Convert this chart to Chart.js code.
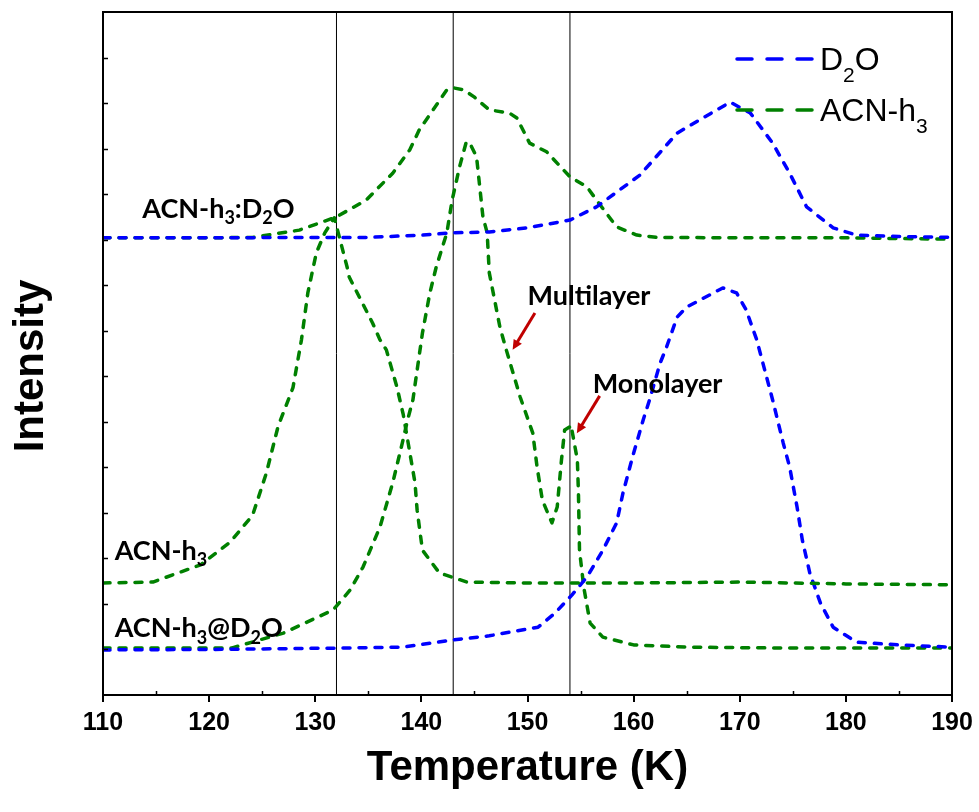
<!DOCTYPE html>
<html>
<head>
<meta charset="utf-8">
<script src="https://cdn.jsdelivr.net/npm/chart.js@4.4.1/dist/chart.umd.min.js"></script>
<style>
  html, body { margin: 0; padding: 0; background: #fff; }
  canvas { display: block; }
</style>
</head>
<body>
<canvas id="tpd" width="979" height="812"></canvas>
<script>
// ----- Data -----

// D2O trace in the ACN-h3:D2O mixture (top, blue)
const MIX_D2O_T = [110, 120, 130, 135, 140, 143, 146.4, 150, 154, 156.5, 160.6, 164.1, 166.5, 169.1, 171, 173.1, 174.7, 176.3, 178.8, 181, 185, 190];
const MIX_D2O_I = [10.04, 10.04, 10.05, 10.05, 10.10, 10.15, 10.17, 10.26, 10.43, 10.72, 11.42, 12.34, 12.67, 13.02, 12.78, 12.12, 11.46, 10.72, 10.26, 10.10, 10.07, 10.05];

// ACN-h3 trace in the ACN-h3:D2O mixture (top, green)
const MIX_ACN_T = [110, 115, 120, 124.1, 128.5, 132, 134.8, 137.3, 138.9, 139.8, 142.4, 143.1, 144, 145, 146.4, 148.3, 149, 150.2, 151.8, 154, 155.6, 156.5, 158.4, 160.3, 162.2, 170, 180, 190];
const MIX_ACN_I = [10.04, 10.04, 10.04, 10.05, 10.21, 10.50, 10.87, 11.46, 11.97, 12.41, 13.29, 13.33, 13.29, 13.13, 12.85, 12.78, 12.67, 12.12, 11.93, 11.38, 11.16, 10.87, 10.28, 10.10, 10.05, 10.04, 10.04, 10.01];

// pure ACN-h3 (middle, green)
const PURE_ACN_T = [110, 114.7, 119.2, 122, 124.1, 125.4, 126.5, 127.9, 128.7, 129.3, 130.1, 130.9, 131.8, 133.0, 133.2, 135.4, 136.1, 136.7, 137.7, 138.3, 139.4, 139.6, 140.1, 141.7, 144.3, 150, 160, 170, 180, 190];
const PURE_ACN_I = [2.46, 2.48, 2.86, 3.36, 3.95, 4.88, 5.90, 6.75, 7.80, 8.83, 9.71, 10.15, 10.48, 9.40, 9.18, 8.17, 7.80, 7.58, 6.76, 6.15, 4.66, 4.06, 3.18, 2.68, 2.48, 2.46, 2.46, 2.48, 2.44, 2.42];

// ACN-h3 on D2O, ACN-h3@D2O (bottom, green)
const LAYER_ACN_T = [110, 115, 122.1, 127, 131.7, 133.3, 134.5, 136.1, 137.3, 138.2, 138.7, 139.2, 140.1, 140.8, 141.4, 142.4, 142.9, 143.6, 144.2, 144.5, 145.2, 145.8, 146.2, 146.4, 147.4, 148.0, 149.3, 150.5, 150.9, 151.4, 152.3, 152.8, 153.2, 153.5, 154.0, 154.1, 154.7, 154.8, 154.9, 155.3, 155.9, 157.1, 160.0, 165.4, 174.8, 190];
const LAYER_ACN_I = [1.03, 1.03, 1.03, 1.36, 1.87, 2.31, 2.81, 3.69, 4.66, 5.53, 6.04, 6.48, 7.95, 8.83, 9.40, 10.15, 10.87, 11.60, 12.12, 12.15, 11.82, 10.50, 10.15, 9.27, 8.08, 7.58, 6.55, 5.75, 5.01, 4.28, 3.78, 4.13, 5.16, 5.82, 5.89, 5.93, 5.16, 4.44, 3.18, 2.37, 1.58, 1.27, 1.10, 1.05, 1.03, 1.03];

// D2O under the ACN-h3 layer (bottom, blue)
const LAYER_D2O_T = [110, 120, 132, 138.2, 143, 146.4, 151, 152.6, 154.2, 155.6, 157.1, 158.4, 159.0, 159.9, 160.9, 161.5, 162.5, 163.1, 164.1, 165.0, 168.4, 169.7, 170.6, 171.6, 173.1, 174.1, 174.7, 175.4, 175.9, 176.6, 177.6, 178.8, 181.0, 185, 190];
const LAYER_D2O_I = [0.99, 1.00, 1.03, 1.05, 1.21, 1.30, 1.49, 1.80, 2.20, 2.59, 3.18, 3.78, 4.44, 5.23, 6.04, 6.48, 7.29, 7.64, 8.30, 8.52, 8.94, 8.83, 8.46, 7.80, 6.48, 5.53, 5.01, 4.13, 3.40, 2.68, 2.02, 1.49, 1.16, 1.10, 1.05];

// guide lines (K)
const GUIDE_T = [132, 143, 154];

const X_MIN = 110, X_MAX = 190, X_STEP = 10;
const Y_MIN = 0, Y_MAX = 15;

// ----- Styles -----
const BLUE = '#0000ff';
const GREEN = '#008000';
const ARROW_RED = '#c00000';
const SANS = '"Liberation Sans", Arial, sans-serif';
const LABEL_FONT = 'Lato, "Open Sans", sans-serif';

const zip = (xs, ys) => xs.map((x, i) => ({ x, y: ys[i] }));

function curve(xs, ys, color) {
  return {
    data: zip(xs, ys),
    borderColor: color,
    borderWidth: 3.5,
    borderDash: [7, 9],
    borderCapStyle: 'round',
    borderJoinStyle: 'round',
    pointRadius: 0,
    tension: 0,
    fill: false,
  };
}

function guide(t) {
  return {
    data: [{ x: t, y: Y_MIN }, { x: t, y: Y_MAX }],
    borderColor: '#000',
    borderWidth: 1,
    pointRadius: 0,
  };
}

// text with subscripts: parts = [[text, isSub], ...]
function drawRich(ctx, x, y, parts, size, weight, family, subDrop) {
  ctx.save();
  ctx.textBaseline = 'alphabetic';
  ctx.textAlign = 'left';
  let cx = x;
  parts.forEach(([txt, sub]) => {
    const s = sub ? Math.round(size * 0.66) : size;
    ctx.font = `${weight} ${s}px ${family}`;
    ctx.fillText(txt, cx, sub ? y + size * subDrop : y);
    cx += ctx.measureText(txt).width;
  });
  ctx.restore();
}

function drawArrow(ctx, x1, y1, x2, y2) {
  const ang = Math.atan2(y2 - y1, x2 - x1);
  const head = 11;
  ctx.save();
  ctx.strokeStyle = ARROW_RED;
  ctx.fillStyle = ARROW_RED;
  ctx.lineWidth = 3;
  ctx.beginPath();
  ctx.moveTo(x1, y1);
  ctx.lineTo(x2 - Math.cos(ang) * head * 0.8, y2 - Math.sin(ang) * head * 0.8);
  ctx.stroke();
  ctx.beginPath();
  ctx.moveTo(x2, y2);
  ctx.lineTo(x2 - head * Math.cos(ang - 0.45), y2 - head * Math.sin(ang - 0.45));
  ctx.lineTo(x2 - head * Math.cos(ang + 0.45), y2 - head * Math.sin(ang + 0.45));
  ctx.closePath();
  ctx.fill();
  ctx.restore();
}

// frame, minor ticks, titles, legend and annotations
const decor = {
  id: 'decor',
  afterDraw(chart) {
    const { ctx, chartArea: a, scales: { x, y } } = chart;
    ctx.save();
    ctx.strokeStyle = '#000';
    ctx.lineWidth = 2;
    ctx.strokeRect(a.left, a.top, a.right - a.left, a.bottom - a.top);

    // inward ticks on the left axis
    ctx.lineWidth = 1.5;
    for (let v = Y_MIN + 1; v < Y_MAX; v++) {
      const py = Math.round(y.getPixelForValue(v)) + 0.5;
      ctx.beginPath();
      ctx.moveTo(a.left, py);
      ctx.lineTo(a.left + 5, py);
      ctx.stroke();
    }
    // minor x ticks
    for (let v = X_MIN + X_STEP / 2; v < X_MAX; v += X_STEP) {
      const px = Math.round(x.getPixelForValue(v)) + 0.5;
      ctx.beginPath();
      ctx.moveTo(px, a.bottom);
      ctx.lineTo(px, a.bottom - 4);
      ctx.stroke();
    }

    // axis titles
    ctx.fillStyle = '#000';
    ctx.textAlign = 'center';
    ctx.textBaseline = 'middle';
    ctx.font = `bold 42px ${SANS}`;
    ctx.fillText('Temperature (K)', (a.left + a.right) / 2, 768);
    ctx.save();
    ctx.translate(31, 366);
    ctx.rotate(-Math.PI / 2);
    ctx.fillText('Intensity', 0, 0);
    ctx.restore();

    // legend
    const legend = [
      { color: BLUE, y: 59, parts: [['D', 0], ['2', 1], ['O', 0]] },
      { color: GREEN, y: 110, parts: [['ACN-h', 0], ['3', 1]] },
    ];
    legend.forEach(it => {
      ctx.save();
      ctx.strokeStyle = it.color;
      ctx.lineWidth = 3.5;
      ctx.lineCap = 'round';
      ctx.setLineDash([15, 15]);
      ctx.beginPath();
      ctx.moveTo(737, it.y);
      ctx.lineTo(812, it.y);
      ctx.stroke();
      ctx.restore();
      drawRich(ctx, 820, it.y + 11, it.parts, 32, 'normal', SANS, 0.38);
    });

    // curve labels, placed in data coordinates
    const labels = [
      { t: 113.7, i: 10.48, parts: [['ACN-h', 0], ['3', 1], [':D', 0], ['2', 1], ['O', 0]] },
      { t: 111.1, i: 2.97, parts: [['ACN-h', 0], ['3', 1]] },
      { t: 111.1, i: 1.27, parts: [['ACN-h', 0], ['3', 1], ['@D', 0], ['2', 1], ['O', 0]] },
      { t: 150.0, i: 8.57, parts: [['Multilayer', 0]] },
      { t: 156.15, i: 6.63, parts: [['Monolayer', 0]] },
    ];
    labels.forEach(l => {
      drawRich(ctx, x.getPixelForValue(l.t), y.getPixelForValue(l.i), l.parts, 27, 'bold', LABEL_FONT, 0.24);
    });

    const arrows = [
      [150.7, 8.39, 148.6, 7.58],
      [156.8, 6.57, 154.65, 5.75],
    ];
    arrows.forEach(([t1, i1, t2, i2]) => {
      drawArrow(ctx, x.getPixelForValue(t1), y.getPixelForValue(i1), x.getPixelForValue(t2), y.getPixelForValue(i2));
    });
    ctx.restore();
  },
};

new Chart(document.getElementById('tpd'), {
  type: 'line',
  data: {
    datasets: [
      curve(MIX_D2O_T, MIX_D2O_I, BLUE),
      curve(MIX_ACN_T, MIX_ACN_I, GREEN),
      curve(PURE_ACN_T, PURE_ACN_I, GREEN),
      curve(LAYER_D2O_T, LAYER_D2O_I, BLUE),
      curve(LAYER_ACN_T, LAYER_ACN_I, GREEN),
      ...GUIDE_T.map(guide),
    ],
  },
  options: {
    responsive: false,
    animation: false,
    devicePixelRatio: 1,
    layout: { padding: { left: 103, right: 27, top: 12, bottom: 0 } },
    scales: {
      x: {
        type: 'linear',
        min: X_MIN,
        max: X_MAX,
        ticks: {
          stepSize: X_STEP,
          color: '#000',
          padding: 6,
          font: { family: SANS, weight: 'bold', size: 25 },
        },
        grid: { drawOnChartArea: false, drawTicks: true, tickLength: 7, color: '#000', lineWidth: 2 },
        border: { display: false },
        afterFit: s => { s.height = 117; },
      },
      y: {
        display: false,
        min: Y_MIN,
        max: Y_MAX,
      },
    },
    plugins: {
      legend: { display: false },
      tooltip: { enabled: false },
    },
  },
  plugins: [decor],
});
</script>
</body>
</html>
